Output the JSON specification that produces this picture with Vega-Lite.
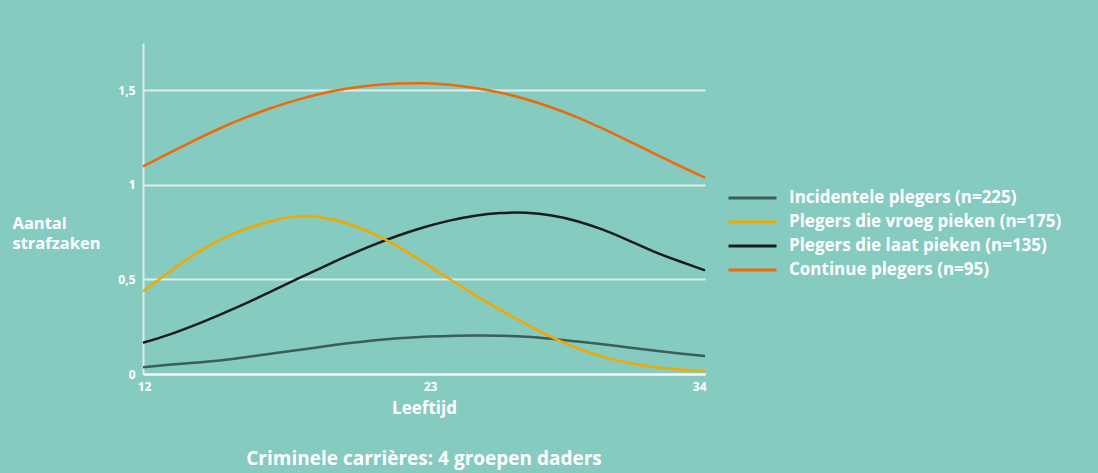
{
  "$schema": "https://vega.github.io/schema/vega-lite/v6.json",
  "width": 562,
  "height": 331,
  "autosize": "none",
  "padding": {"left": 143, "top": 43, "right": 393, "bottom": 99},
  "background": "#86cbbf",
  "title": {
    "text": "Criminele carrières: 4 groepen daders",
    "orient": "bottom",
    "anchor": "middle",
    "font": "Open Sans",
    "fontSize": 19,
    "fontWeight": "bold",
    "color": "#ffffff",
    "offset": 34
  },
  "data": {
    "values": [
      {"age": 12, "group": "Incidentele plegers (n=225)", "value": 0.036},
      {"age": 13, "group": "Incidentele plegers (n=225)", "value": 0.049},
      {"age": 14, "group": "Incidentele plegers (n=225)", "value": 0.06},
      {"age": 15, "group": "Incidentele plegers (n=225)", "value": 0.072},
      {"age": 16, "group": "Incidentele plegers (n=225)", "value": 0.088},
      {"age": 17, "group": "Incidentele plegers (n=225)", "value": 0.107},
      {"age": 18, "group": "Incidentele plegers (n=225)", "value": 0.125},
      {"age": 19, "group": "Incidentele plegers (n=225)", "value": 0.144},
      {"age": 20, "group": "Incidentele plegers (n=225)", "value": 0.162},
      {"age": 21, "group": "Incidentele plegers (n=225)", "value": 0.177},
      {"age": 22, "group": "Incidentele plegers (n=225)", "value": 0.189},
      {"age": 23, "group": "Incidentele plegers (n=225)", "value": 0.197},
      {"age": 24, "group": "Incidentele plegers (n=225)", "value": 0.201},
      {"age": 25, "group": "Incidentele plegers (n=225)", "value": 0.203},
      {"age": 26, "group": "Incidentele plegers (n=225)", "value": 0.202},
      {"age": 27, "group": "Incidentele plegers (n=225)", "value": 0.197},
      {"age": 28, "group": "Incidentele plegers (n=225)", "value": 0.186},
      {"age": 29, "group": "Incidentele plegers (n=225)", "value": 0.172},
      {"age": 30, "group": "Incidentele plegers (n=225)", "value": 0.157},
      {"age": 31, "group": "Incidentele plegers (n=225)", "value": 0.14},
      {"age": 32, "group": "Incidentele plegers (n=225)", "value": 0.124},
      {"age": 33, "group": "Incidentele plegers (n=225)", "value": 0.109},
      {"age": 34, "group": "Incidentele plegers (n=225)", "value": 0.095},
      {"age": 12, "group": "Plegers die laat pieken (n=135)", "value": 0.165},
      {"age": 13, "group": "Plegers die laat pieken (n=135)", "value": 0.207},
      {"age": 14, "group": "Plegers die laat pieken (n=135)", "value": 0.257},
      {"age": 15, "group": "Plegers die laat pieken (n=135)", "value": 0.313},
      {"age": 16, "group": "Plegers die laat pieken (n=135)", "value": 0.372},
      {"age": 17, "group": "Plegers die laat pieken (n=135)", "value": 0.436},
      {"age": 18, "group": "Plegers die laat pieken (n=135)", "value": 0.5},
      {"age": 19, "group": "Plegers die laat pieken (n=135)", "value": 0.563},
      {"age": 20, "group": "Plegers die laat pieken (n=135)", "value": 0.624},
      {"age": 21, "group": "Plegers die laat pieken (n=135)", "value": 0.681},
      {"age": 22, "group": "Plegers die laat pieken (n=135)", "value": 0.732},
      {"age": 23, "group": "Plegers die laat pieken (n=135)", "value": 0.776},
      {"age": 24, "group": "Plegers die laat pieken (n=135)", "value": 0.811},
      {"age": 25, "group": "Plegers die laat pieken (n=135)", "value": 0.837},
      {"age": 26, "group": "Plegers die laat pieken (n=135)", "value": 0.851},
      {"age": 27, "group": "Plegers die laat pieken (n=135)", "value": 0.852},
      {"age": 28, "group": "Plegers die laat pieken (n=135)", "value": 0.838},
      {"age": 29, "group": "Plegers die laat pieken (n=135)", "value": 0.808},
      {"age": 30, "group": "Plegers die laat pieken (n=135)", "value": 0.763},
      {"age": 31, "group": "Plegers die laat pieken (n=135)", "value": 0.707},
      {"age": 32, "group": "Plegers die laat pieken (n=135)", "value": 0.647},
      {"age": 33, "group": "Plegers die laat pieken (n=135)", "value": 0.596},
      {"age": 34, "group": "Plegers die laat pieken (n=135)", "value": 0.548},
      {"age": 12, "group": "Plegers die vroeg pieken (n=175)", "value": 0.437},
      {"age": 13, "group": "Plegers die vroeg pieken (n=175)", "value": 0.537},
      {"age": 14, "group": "Plegers die vroeg pieken (n=175)", "value": 0.63},
      {"age": 15, "group": "Plegers die vroeg pieken (n=175)", "value": 0.708},
      {"age": 16, "group": "Plegers die vroeg pieken (n=175)", "value": 0.766},
      {"age": 17, "group": "Plegers die vroeg pieken (n=175)", "value": 0.808},
      {"age": 18, "group": "Plegers die vroeg pieken (n=175)", "value": 0.833},
      {"age": 19, "group": "Plegers die vroeg pieken (n=175)", "value": 0.828},
      {"age": 20, "group": "Plegers die vroeg pieken (n=175)", "value": 0.796},
      {"age": 21, "group": "Plegers die vroeg pieken (n=175)", "value": 0.743},
      {"age": 22, "group": "Plegers die vroeg pieken (n=175)", "value": 0.672},
      {"age": 23, "group": "Plegers die vroeg pieken (n=175)", "value": 0.589},
      {"age": 24, "group": "Plegers die vroeg pieken (n=175)", "value": 0.502},
      {"age": 25, "group": "Plegers die vroeg pieken (n=175)", "value": 0.417},
      {"age": 26, "group": "Plegers die vroeg pieken (n=175)", "value": 0.338},
      {"age": 27, "group": "Plegers die vroeg pieken (n=175)", "value": 0.264},
      {"age": 28, "group": "Plegers die vroeg pieken (n=175)", "value": 0.195},
      {"age": 29, "group": "Plegers die vroeg pieken (n=175)", "value": 0.137},
      {"age": 30, "group": "Plegers die vroeg pieken (n=175)", "value": 0.092},
      {"age": 31, "group": "Plegers die vroeg pieken (n=175)", "value": 0.059},
      {"age": 32, "group": "Plegers die vroeg pieken (n=175)", "value": 0.037},
      {"age": 33, "group": "Plegers die vroeg pieken (n=175)", "value": 0.024},
      {"age": 34, "group": "Plegers die vroeg pieken (n=175)", "value": 0.015},
      {"age": 12, "group": "Continue plegers (n=95)", "value": 1.098},
      {"age": 13, "group": "Continue plegers (n=95)", "value": 1.167},
      {"age": 14, "group": "Continue plegers (n=95)", "value": 1.234},
      {"age": 15, "group": "Continue plegers (n=95)", "value": 1.298},
      {"age": 16, "group": "Continue plegers (n=95)", "value": 1.355},
      {"age": 17, "group": "Continue plegers (n=95)", "value": 1.405},
      {"age": 18, "group": "Continue plegers (n=95)", "value": 1.448},
      {"age": 19, "group": "Continue plegers (n=95)", "value": 1.483},
      {"age": 20, "group": "Continue plegers (n=95)", "value": 1.509},
      {"age": 21, "group": "Continue plegers (n=95)", "value": 1.527},
      {"age": 22, "group": "Continue plegers (n=95)", "value": 1.536},
      {"age": 23, "group": "Continue plegers (n=95)", "value": 1.537},
      {"age": 24, "group": "Continue plegers (n=95)", "value": 1.529},
      {"age": 25, "group": "Continue plegers (n=95)", "value": 1.512},
      {"age": 26, "group": "Continue plegers (n=95)", "value": 1.487},
      {"age": 27, "group": "Continue plegers (n=95)", "value": 1.453},
      {"age": 28, "group": "Continue plegers (n=95)", "value": 1.409},
      {"age": 29, "group": "Continue plegers (n=95)", "value": 1.357},
      {"age": 30, "group": "Continue plegers (n=95)", "value": 1.297},
      {"age": 31, "group": "Continue plegers (n=95)", "value": 1.233},
      {"age": 32, "group": "Continue plegers (n=95)", "value": 1.166},
      {"age": 33, "group": "Continue plegers (n=95)", "value": 1.101},
      {"age": 34, "group": "Continue plegers (n=95)", "value": 1.038}
    ]
  },
  "mark": {"type": "line", "interpolate": "natural", "strokeWidth": 2.5},
  "encoding": {
    "x": {
      "field": "age",
      "type": "quantitative",
      "scale": {"domain": [12, 34], "nice": false, "zero": false},
      "axis": {
        "values": [12, 23, 34],
        "grid": false,
        "ticks": false,
        "labelFlush": false,
        "labelAlign": {"condition": {"test": "datum.value == 34", "value": "right"}, "value": "center"},
        "labelOffset": {"condition": {"test": "datum.value == 23", "value": 6}, "value": 1},
        "domainColor": "#ffffff",
        "domainWidth": 2,
        "labelPadding": 7,
        "title": "Leeftijd",
        "titlePadding": 8
      }
    },
    "y": {
      "field": "value",
      "type": "quantitative",
      "scale": {"domain": [0, 1.75], "nice": false},
      "axis": {
        "values": [0, 0.5, 1, 1.5],
        "labelExpr": "replace(format(datum.value, '~g'), '.', ',')",
        "grid": true,
        "gridColor": "#d9efeb",
        "gridWidth": 2,
        "gridOpacity": 1,
        "ticks": false,
        "domainColor": "#d9efeb",
        "domainWidth": 2,
        "labelPadding": 8,
        "title": ["Aantal", "strafzaken"],
        "titleAngle": 0,
        "titleAlign": "left",
        "titleBaseline": "alphabetic",
        "titleFontSize": 16.5,
        "titleX": -131,
        "titleY": 185,
        "titleLineHeight": 20
      }
    },
    "color": {
      "field": "group",
      "type": "nominal",
      "scale": {
        "domain": ["Incidentele plegers (n=225)", "Plegers die vroeg pieken (n=175)", "Plegers die laat pieken (n=135)", "Continue plegers (n=95)"],
        "range": ["#3b5e59", "#f2a800", "#1c1c1c", "#ec6a0b"]
      },
      "legend": {
        "title": null,
        "orient": "none",
        "legendX": 584,
        "legendY": 145,
        "symbolType": "stroke",
        "symbolSize": 2304,
        "symbolStrokeWidth": 3,
        "clipHeight": 20,
        "labelOffset": 11,
        "rowPadding": 4
      }
    }
  },
  "config": {
    "view": {"stroke": null},
    "font": "Open Sans",
    "axis": {
      "labelColor": "#ffffff",
      "labelFont": "Open Sans",
      "labelFontSize": 12,
      "labelFontWeight": "bold",
      "titleColor": "#ffffff",
      "titleFont": "Open Sans",
      "titleFontSize": 17,
      "titleFontWeight": "bold"
    },
    "legend": {
      "labelColor": "#ffffff",
      "labelFont": "Open Sans",
      "labelFontSize": 17,
      "labelFontWeight": "bold",
      "labelLimit": 400
    }
  }
}
